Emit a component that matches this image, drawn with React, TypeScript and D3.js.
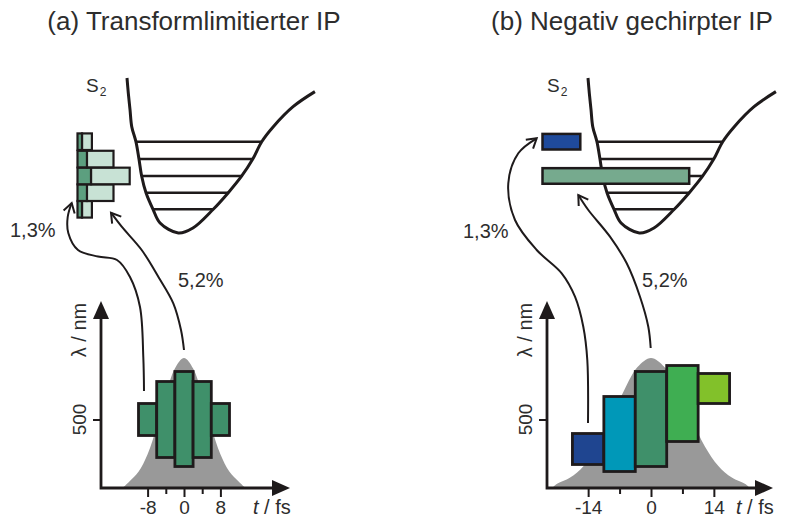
import * as d3 from "d3";
import React, { useEffect, useRef } from "react";

const W = 790;
const H = 520;
const FONT = "'Liberation Sans', Arial, Helvetica, sans-serif";
const INK = "#1e1a1b";
const TEXT = "#2d2d2d";

// (a) transform-limited pulse: five spectral slices, 4 fs long each
const sliceTimesA = [-8, -4, 0, 4, 8];
const sliceLoA = [484, 462, 453, 462, 484];
const sliceHiA = [516, 538, 548, 538, 516];
const sliceColorsA = ["#3f906a", "#3f906a", "#3f906a", "#3f906a", "#3f906a"];

// (b) negatively chirped pulse: slices 7 fs long
const sliceTimesB = [-14, -7, 0, 7, 14];
const sliceLoB = [455, 448, 453, 478, 516];
const sliceHiB = [486, 523, 548, 554, 546];
const sliceColorsB = ["#1f4590", "#0098b8", "#3f906a", "#3fae52", "#82c12a"];

// intensity envelopes (relative)
const envTimesA = [-13.5, -12, -10, -8, -6, -4, -2, 0, 2, 4, 6, 8, 10, 12, 13.5];
const envA = [0, 0.05, 0.125, 0.26, 0.47, 0.72, 0.92, 1, 0.92, 0.72, 0.47, 0.26, 0.125, 0.05, 0];
const envTimesB = [-22, -21, -18, -15, -12, -9, -6, -3, 0, 3, 6, 9, 12, 15, 18, 21, 22];
const envB = [0, 0.03, 0.08, 0.17, 0.32, 0.53, 0.75, 0.93, 1, 0.93, 0.75, 0.53, 0.32, 0.17, 0.08, 0.03, 0];

const majorTicksA = [-8, 0, 8];
const minorTicksA = [-4, 4];
const majorTicksB = [-14, 0, 14];
const minorTicksB = [-7, 7];

// S2 potential curve, R and E in arbitrary units
const potR = [0, 0.07, 0.16, 0.25, 0.47, 0.63, 0.77, 1.0, 1.37, 1.74, 2.7, 3.47, 4.54, 5.33, 6.04, 6.62, 7.09, 7.7, 8.74, 9.89];
const potE = [10, 9.01, 7.94, 6.86, 5.89, 4.77, 3.68, 2.6, 1.53, 0.65, 0, 0.32, 1.53, 2.6, 3.68, 4.77, 5.89, 6.86, 8.15, 9.12];
const levelE = [1.53, 2.6, 3.68, 4.77, 5.89];

// level populations (arb. units), bottom level first
const popLowA = [1.0, 2.1, 3.0, 2.1, 1.0]; // 1,3 % part
const popHighA = [3.2, 8.0, 11.6, 8.0, 3.2]; // up to 5,2 %
const popB = [0, 0, 32.6, 0, 8.4];
const popColorsB = ["none", "none", "#76aa8e", "none", "#1f4a9b"];

const panels = [
  {
    title: "(a) Transformlimitierter IP", titleX: 194,
    axisX: 101, axisY: 488, xEnd: 290, yEnd: 301, tZero: 184, pxPerFs: 4.55,
    potX: 127, popX: 77.5,
    times: sliceTimesA, lo: sliceLoA, hi: sliceHiA, colors: sliceColorsA, dur: 4,
    envT: envTimesA, env: envA, major: majorTicksA, minor: minorTicksA,
    lowLabel: [10, 237], highLabel: [178, 287],
    arrowLow: [[144, 391], [143.3, 357], [140, 307], [130, 277], [117, 260], [98, 256.5], [78, 250], [68.3, 233], [67.7, 217], [71.7, 203]],
    arrowHigh: [[184, 350], [181, 330], [173.3, 303.3], [158.3, 276.7], [141.7, 250], [121.7, 226.7], [111, 212.7]],
  },
  {
    title: "(b) Negativ gechirpter IP", titleX: 632,
    axisX: 547, axisY: 488, xEnd: 773, yEnd: 301, tZero: 651, pxPerFs: 4.49,
    potX: 588, popX: 542.5,
    times: sliceTimesB, lo: sliceLoB, hi: sliceHiB, colors: sliceColorsB, dur: 7,
    envT: envTimesB, env: envB, major: majorTicksB, minor: minorTicksB,
    lowLabel: [463, 238], highLabel: [642, 287],
    arrowLow: [[588, 423], [587.3, 360], [583.3, 326.7], [575, 296.7], [561.7, 273.3], [536.7, 250], [515, 220], [508.3, 183.3], [518.3, 153.3], [536.7, 138.3]],
    arrowHigh: [[650.7, 348], [648.3, 326.7], [640, 296.7], [626.7, 263.3], [610, 236.7], [588.3, 210], [578.3, 195]],
  },
];

const iMin = potE.indexOf(d3.min(potE) as number);
function crossing(E: number, side: number) {
  const idx = side < 0 ? d3.range(0, iMin) : d3.range(iMin, potE.length - 1);
  for (const i of idx) {
    const e0 = potE[i], e1 = potE[i + 1];
    if ((e0 - E) * (e1 - E) <= 0 && e0 !== e1) {
      return potR[i] + ((E - e0) / (e1 - e0)) * (potR[i + 1] - potR[i]);
    }
  }
  return potR[iMin];
}

const App = () => {
  const svgRef = useRef<SVGSVGElement>(null);

  useEffect(() => {
    const svg = d3.select(svgRef.current);
    svg.selectAll("*").remove();

    const lamScale = d3.scaleLinear().domain([431.5, 617.5]).range([488, 302]);
    const iScale = d3.scaleLinear().domain([0, 1]).range([488, 358]);
    const eScale = d3.scaleLinear().domain([0, 10]).range([233, 78]);
    const popScaleW = 4.5;
    const halfRow = (levelE[1] - levelE[0]) / 2;

    panels.forEach((p, pi) => {
      const g = svg.append("g");
      const tScale = d3.scaleLinear()
        .domain([(p.axisX - p.tZero) / p.pxPerFs, (p.xEnd - p.tZero) / p.pxPerFs])
        .range([p.axisX, p.xEnd]);
      const rScale = d3.scaleLinear().domain([0, 10]).range([p.potX, p.potX + 190]);

      // title
      g.append("text")
        .attr("x", p.titleX).attr("y", 30)
        .attr("text-anchor", "middle")
        .attr("font-family", FONT).attr("font-size", 26).attr("fill", TEXT)
        .text(p.title);

      // envelope
      const area = d3.area<number>()
        .x((d, i) => tScale(p.envT[i]))
        .y0(p.axisY)
        .y1((d) => iScale(d))
        .curve(d3.curveCatmullRom);
      g.append("path").attr("d", area(p.env)).attr("fill", "#999999");

      // spectral slices
      g.selectAll(".slice")
        .data(p.times)
        .join("rect")
        .attr("class", "slice")
        .attr("x", (t) => tScale(t - p.dur / 2))
        .attr("width", (t) => tScale(t + p.dur / 2) - tScale(t - p.dur / 2))
        .attr("y", (t, i) => lamScale(p.hi[i]))
        .attr("height", (t, i) => lamScale(p.lo[i]) - lamScale(p.hi[i]))
        .attr("fill", (t, i) => p.colors[i])
        .attr("stroke", INK).attr("stroke-width", 2.8);

      // time axis ticks
      const gx = g.append("g").attr("transform", `translate(0,${p.axisY})`);
      gx.call(d3.axisBottom(tScale).tickValues(p.major).tickSize(9).tickSizeOuter(0)
        .tickPadding(4).tickFormat((d) => String(d)));
      gx.attr("font-family", FONT).attr("font-size", 19);
      gx.select(".domain").remove();
      gx.selectAll("line").attr("stroke", INK).attr("stroke-width", 2);
      gx.selectAll("text").attr("fill", TEXT);
      const gm = g.append("g").attr("transform", `translate(0,${p.axisY})`);
      gm.call(d3.axisBottom(tScale).tickValues(p.minor).tickSize(6).tickSizeOuter(0).tickFormat(() => ""));
      gm.select(".domain").remove();
      gm.selectAll("line").attr("stroke", INK).attr("stroke-width", 2);

      const gy = g.append("g").attr("transform", `translate(${p.axisX},0)`);
      gy.call(d3.axisLeft(lamScale).tickValues([500]).tickSize(8).tickSizeOuter(0).tickFormat(() => ""));
      gy.select(".domain").remove();
      gy.selectAll("line").attr("stroke", INK).attr("stroke-width", 2);

      // axis lines with arrow heads
      g.append("path")
        .attr("d", `M${p.axisX},${p.yEnd + 16}V${p.axisY}H${p.xEnd - 16}`)
        .attr("fill", "none").attr("stroke", INK).attr("stroke-width", 2.8);
      g.append("path")
        .attr("d", `M${p.axisX},${p.yEnd}L${p.axisX - 8},${p.yEnd + 18}L${p.axisX + 8},${p.yEnd + 18}Z`)
        .attr("fill", INK);
      g.append("path")
        .attr("d", `M${p.xEnd},${p.axisY}L${p.xEnd - 18},${p.axisY - 8}L${p.xEnd - 18},${p.axisY + 8}Z`)
        .attr("fill", INK);

      // axis labels
      const tl = g.append("text")
        .attr("x", p.xEnd - 37).attr("y", 514)
        .attr("font-family", FONT).attr("font-size", 20).attr("fill", TEXT);
      tl.append("tspan").attr("font-style", "italic").text("t");
      tl.append("tspan").text(" / fs");
      g.append("text")
        .attr("transform", `translate(${p.axisX - 15},${lamScale(500)}) rotate(-90)`)
        .attr("text-anchor", "middle")
        .attr("font-family", FONT).attr("font-size", 19).attr("fill", TEXT)
        .text("500");
      g.append("text")
        .attr("transform", `translate(${p.axisX - 15},330) rotate(-90)`)
        .attr("text-anchor", "middle")
        .attr("font-family", FONT).attr("font-size", 20).attr("fill", TEXT)
        .text("λ / nm");

      // potential curve and vibrational levels
      const pot = d3.line<number>()
        .x((d, i) => rScale(potR[i]))
        .y((d) => eScale(d))
        .curve(d3.curveCatmullRom);
      g.append("path").attr("d", pot(potE))
        .attr("fill", "none").attr("stroke", INK).attr("stroke-width", 3);
      g.selectAll(".level")
        .data(levelE)
        .join("line")
        .attr("class", "level")
        .attr("x1", (e) => rScale(crossing(e, -1)))
        .attr("x2", (e) => rScale(crossing(e, 1)))
        .attr("y1", (e) => eScale(e))
        .attr("y2", (e) => eScale(e))
        .attr("stroke", INK).attr("stroke-width", 2.5);

      // S2 label
      const s2 = g.append("text")
        .attr("x", p.potX - 41).attr("y", 92)
        .attr("font-family", FONT).attr("font-size", 19).attr("fill", TEXT);
      s2.append("tspan").text("S");
      s2.append("tspan").attr("font-size", 12).attr("dx", 1).attr("dy", 4).text("2");

      // level populations
      const popX = (v: number) => p.popX + v * popScaleW;
      if (pi === 0) {
        levelE.forEach((e, i) => {
          g.append("rect")
            .attr("x", popX(popLowA[i])).attr("width", popX(popHighA[i]) - popX(popLowA[i]))
            .attr("y", eScale(e + halfRow)).attr("height", eScale(e - halfRow) - eScale(e + halfRow))
            .attr("fill", "#c8e2d5").attr("stroke", INK).attr("stroke-width", 2.2);
          g.append("rect")
            .attr("x", popX(0)).attr("width", popX(popLowA[i]) - popX(0))
            .attr("y", eScale(e + halfRow)).attr("height", eScale(e - halfRow) - eScale(e + halfRow))
            .attr("fill", "#5c9f7f").attr("stroke", INK).attr("stroke-width", 2.2);
        });
      } else {
        levelE.forEach((e, i) => {
          if (popB[i] <= 0) return;
          g.append("rect")
            .attr("x", popX(0)).attr("width", popX(popB[i]) - popX(0))
            .attr("y", eScale(e + halfRow) + 0.5).attr("height", eScale(e - halfRow) - eScale(e + halfRow) - 1)
            .attr("fill", popColorsB[i]).attr("stroke", INK).attr("stroke-width", 2.5);
        });
      }

      // excitation arrows
      const arrowLine = d3.line().curve(d3.curveCatmullRom);
      [p.arrowLow, p.arrowHigh].forEach((pts) => {
        g.append("path").attr("d", arrowLine(pts as [number, number][]))
          .attr("fill", "none").attr("stroke", INK).attr("stroke-width", 2);
        const tip = pts[pts.length - 1];
        const prev = pts[pts.length - 2];
        const a = Math.atan2(tip[1] - prev[1], tip[0] - prev[0]);
        const L = 11;
        const s = 0.55;
        g.append("path")
          .attr("d", `M${tip[0] - L * Math.cos(a - s)},${tip[1] - L * Math.sin(a - s)}L${tip[0]},${tip[1]}L${tip[0] - L * Math.cos(a + s)},${tip[1] - L * Math.sin(a + s)}`)
          .attr("fill", "none").attr("stroke", INK).attr("stroke-width", 2);
      });

      g.append("text").attr("x", p.lowLabel[0]).attr("y", p.lowLabel[1])
        .attr("font-family", FONT).attr("font-size", 20).attr("fill", TEXT).text("1,3%");
      g.append("text").attr("x", p.highLabel[0]).attr("y", p.highLabel[1])
        .attr("font-family", FONT).attr("font-size", 20).attr("fill", TEXT).text("5,2%");
    });
  }, []);

  return (
    <svg
      ref={svgRef}
      width={W}
      height={H}
      style={{ position: "absolute", left: 0, top: 0, background: "#fff" }}
    />
  );
};

export default App;
